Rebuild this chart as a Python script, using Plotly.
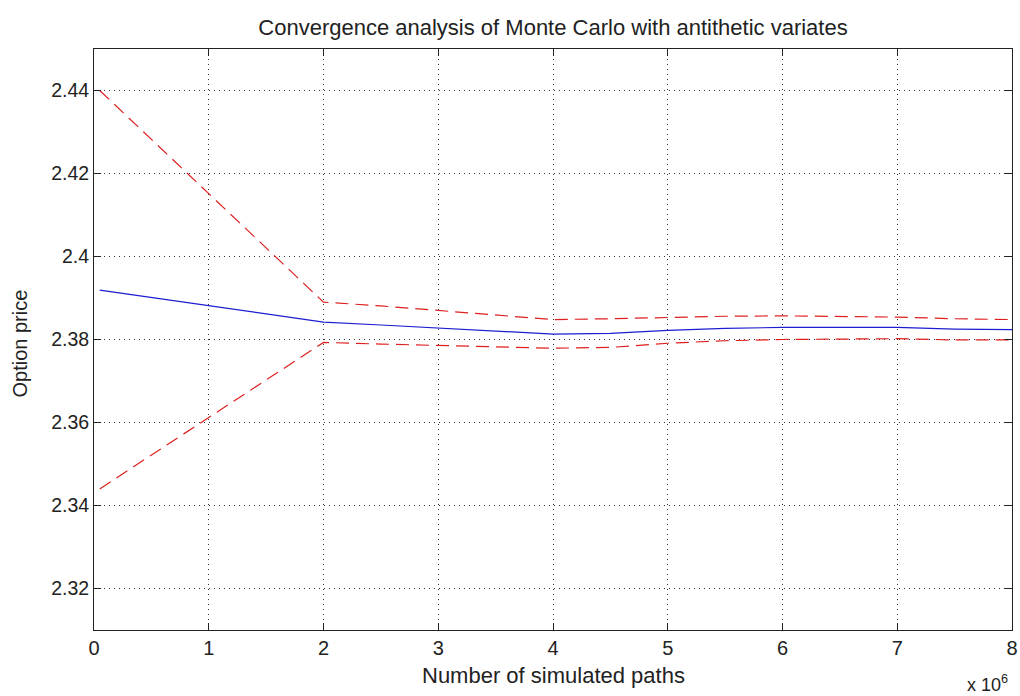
import plotly.graph_objects as go

# Monte Carlo estimate with antithetic variates and its confidence band
n_paths = [0.05e6, 2.0e6, 2.5e6, 3.0e6, 3.5e6, 4.0e6, 4.5e6, 5.0e6,
           5.5e6, 6.0e6, 6.5e6, 7.0e6, 7.5e6, 8.0e6]
price = [2.3919, 2.3842, 2.3835, 2.3828, 2.3820, 2.3813, 2.3815, 2.3822,
         2.3827, 2.3829, 2.3829, 2.3829, 2.3825, 2.3824]
upper = [2.4400, 2.3890, 2.3881, 2.3870, 2.3858, 2.3848, 2.3850, 2.3853,
         2.3856, 2.3857, 2.3855, 2.3854, 2.3850, 2.3848]
lower = [2.3440, 2.3793, 2.3789, 2.3786, 2.3782, 2.3779, 2.3781, 2.3791,
         2.3797, 2.3800, 2.3801, 2.3802, 2.3799, 2.3799]

x_tickvals = [0, 1e6, 2e6, 3e6, 4e6, 5e6, 6e6, 7e6, 8e6]
x_ticktext = ["0", "1", "2", "3", "4", "5", "6", "7", "8"]
y_tickvals = [2.32, 2.34, 2.36, 2.38, 2.40, 2.42, 2.44]
y_ticktext = ["2.32", "2.34", "2.36", "2.38", "2.4", "2.42", "2.44"]

FONT = "Liberation Sans Narrow, Liberation Sans, Arial, sans-serif"
INK = "#222222"
W, H = 1020, 696
L, R, T, B = 94, 2, 49, 66

fig = go.Figure()
fig.add_trace(go.Scatter(x=n_paths, y=price, mode="lines",
                         line=dict(color="#1c1cd0", width=1.2)))
fig.add_trace(go.Scatter(x=n_paths, y=upper, mode="lines",
                         line=dict(color="#dd1f1f", width=1.2, dash="13px,7px")))
fig.add_trace(go.Scatter(x=n_paths, y=lower, mode="lines",
                         line=dict(color="#dd1f1f", width=1.2, dash="13px,7px")))

axis_common = dict(
    showline=True, linecolor=INK, linewidth=1, mirror="allticks",
    ticks="inside", ticklen=7, tickcolor=INK, tickwidth=1,
    showgrid=True, gridcolor="#333333", gridwidth=1, griddash="1px,4px",
    zeroline=False, ticklabeloverflow="allow",
)

fig.update_layout(
    width=W, height=H,
    margin=dict(l=L, r=R, t=T, b=B),
    paper_bgcolor="white", plot_bgcolor="white",
    showlegend=False,
    title=dict(text="Convergence analysis of Monte Carlo with antithetic variates",
               font=dict(family=FONT, size=22, color=INK),
               x=0.5, xref="paper", y=1 - 27 / H, yref="container",
               xanchor="center", yanchor="middle"),
    xaxis=dict(range=[0, 8e6], tickvals=x_tickvals, ticktext=x_ticktext,
               tickfont=dict(family=FONT, size=20, color=INK), **axis_common),
    yaxis=dict(range=[2.31, 2.45], tickvals=y_tickvals, ticktext=y_ticktext,
               tickfont=dict(family=FONT, size=19.5, color=INK), **axis_common),
)

plot_w = W - L - R
plot_h = H - T - B
fig.add_annotation(text="Number of simulated paths", xref="paper", yref="paper",
                   x=0.5, y=-(675 - (H - B)) / plot_h, showarrow=False,
                   font=dict(family=FONT, size=22, color=INK),
                   xanchor="center", yanchor="middle")
fig.add_annotation(text="Option price", xref="paper", yref="paper",
                   x=(20 - L) / plot_w, y=(H - B - 343) / plot_h, textangle=-90,
                   showarrow=False,
                   font=dict(family=FONT, size=20, color=INK),
                   xanchor="center", yanchor="middle")
fig.add_annotation(text="x 10<sup>6</sup>", xref="paper", yref="paper",
                   x=(1016 - L) / plot_w, y=-(683 - (H - B)) / plot_h,
                   showarrow=False,
                   font=dict(family=FONT, size=18, color=INK),
                   xanchor="right", yanchor="middle")

fig.write_html("out.html")
